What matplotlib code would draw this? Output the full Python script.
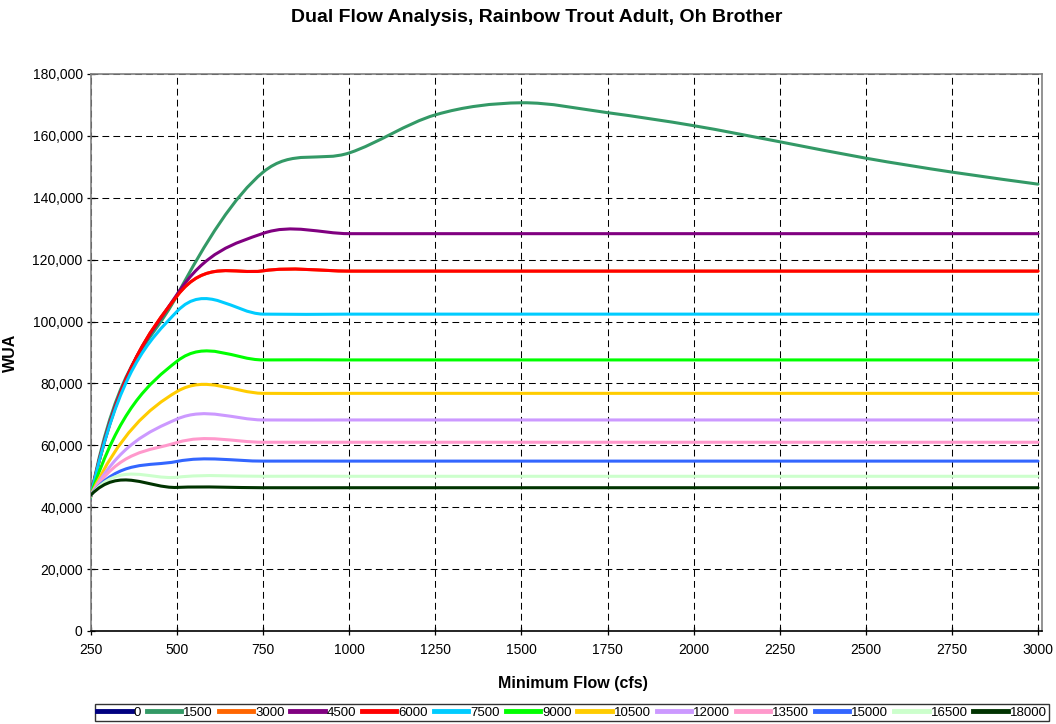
import numpy as np
import matplotlib
matplotlib.use("Agg")
import matplotlib.pyplot as plt
from matplotlib.path import Path
from matplotlib.patches import PathPatch
from matplotlib.lines import Line2D
from matplotlib.ticker import FuncFormatter

plt.rcParams['font.family'] = ['Liberation Sans', 'DejaVu Sans']

# minimum flow (cfs); the first point (0 cfs) lies left of the axis and only shapes the curve start
flow = [0, 250, 500, 750, 1000, 1250, 1500, 1750, 2000, 2250, 2500, 2750, 3000]

series_names = ['0', '1500', '3000', '4500', '6000', '7500', '9000',
                '10500', '12000', '13500', '15000', '16500', '18000']
series_colors = ['#000080', '#339966', '#FF6600', '#800080', '#FF0000', '#00CCFF', '#00FF00',
                 '#FFCC00', '#CC99FF', '#FF99CC', '#3366FF', '#CCFFCC', '#003300']

wua_0 = []
wua_1500 = [-167800, 44000, 108500, 148300, 154500, 166800, 170700, 167500, 163300, 158100, 152800, 148300, 144400]
wua_3000 = [-137700, 44000, 108300, 116400, 116300, 116300, 116300, 116300, 116300, 116300, 116300, 116300, 116300]
wua_4500 = [-145300, 44000, 108800, 128500, 128400, 128400, 128400, 128400, 128400, 128400, 128400, 128400, 128400]
wua_6000 = [-137700, 44000, 108300, 116400, 116300, 116300, 116300, 116300, 116300, 116300, 116300, 116300, 116300]
wua_7500 = [-143100, 44000, 103300, 102400, 102400, 102400, 102400, 102400, 102400, 102400, 102400, 102400, 102400]
wua_9000 = [-80400, 44000, 87200, 87600, 87600, 87600, 87600, 87600, 87600, 87600, 87600, 87600, 87600]
wua_10500 = [-41000, 44000, 77400, 76800, 76800, 76800, 76800, 76800, 76800, 76800, 76800, 76800, 76800]
wua_12000 = [-29600, 44000, 68500, 68200, 68200, 68200, 68200, 68200, 68200, 68200, 68200, 68200, 68200]
wua_13500 = [-27300, 44000, 60900, 61000, 61000, 61000, 61000, 61000, 61000, 61000, 61000, 61000, 61000]
wua_15000 = [-15300, 44000, 54800, 54900, 54900, 54900, 54900, 54900, 54900, 54900, 54900, 54900, 54900]
wua_16500 = [-17900, 44000, 49700, 50000, 50000, 50000, 50000, 50000, 50000, 50000, 50000, 50000, 50000]
wua_18000 = [-10300, 44000, 46400, 46300, 46300, 46300, 46300, 46300, 46300, 46300, 46300, 46300, 46300]

all_wua = [wua_0, wua_1500, wua_3000, wua_4500, wua_6000, wua_7500, wua_9000,
           wua_10500, wua_12000, wua_13500, wua_15000, wua_16500, wua_18000]

x_ticks = [250, 500, 750, 1000, 1250, 1500, 1750, 2000, 2250, 2500, 2750, 3000]
y_ticks = [0, 20000, 40000, 60000, 80000, 100000, 120000, 140000, 160000, 180000]


def smooth_path(xs, ys):
    # Excel-style smoothed line: Catmull-Rom tangents as cubic Bezier segments
    pts = np.column_stack([xs, ys]).astype(float)
    n = len(pts)
    verts = [pts[0]]
    codes = [Path.MOVETO]
    for i in range(n - 1):
        p0 = pts[max(i - 1, 0)]
        p1 = pts[i]
        p2 = pts[i + 1]
        p3 = pts[min(i + 2, n - 1)]
        verts += [p1 + (p2 - p0) / 6, p2 - (p3 - p1) / 6, p2]
        codes += [Path.CURVE4] * 3
    return Path(verts, codes)


fig = plt.figure(figsize=(10.56, 7.24), dpi=100)
ax = fig.add_axes([91 / 1056, 93 / 724, 951 / 1056, 557 / 724])

ax.set_xlim(250, 250 + 951 / (947 / 2750))
ax.set_ylim(0, 180000)
ax.set_xticks(x_ticks)
ax.set_yticks(y_ticks)
ax.yaxis.set_major_formatter(FuncFormatter(lambda v, _: f"{int(v):,}"))

ax.grid(True, color='black', linestyle=(0, (6.5, 4)), linewidth=0.75)
ax.set_axisbelow(True)

for side in ('top', 'right', 'left'):
    ax.spines[side].set_color('#808080')
    ax.spines[side].set_linewidth(1.2)
ax.spines['bottom'].set_color('black')
ax.spines['bottom'].set_linewidth(1.2)

ax.tick_params(axis='both', direction='inout', length=6, width=0.9, labelsize=10,
               colors='black')
ax.tick_params(axis='x', pad=6)
ax.tick_params(axis='y', pad=3)

handles = []
for name, color, vals in zip(series_names, series_colors, all_wua):
    if vals:
        patch = PathPatch(smooth_path(flow, vals), facecolor='none', edgecolor=color,
                          linewidth=2.2, capstyle='round', joinstyle='round', zorder=3)
        ax.add_patch(patch)
    handles.append(Line2D([], [], color=color, linewidth=3.5, label=name))

ax.set_xlabel('Minimum Flow (cfs)', fontsize=11.5, fontweight='bold')
ax.xaxis.set_label_coords((573 - 91) / 951, (631 - 676) / 557)
ax.set_ylabel('WUA', fontsize=11.5, fontweight='bold')
ax.yaxis.set_label_coords((18 - 91) / 951, 0.5)

fig.text(537 / 1056, 1 - 18 / 724, 'Dual Flow Analysis, Rainbow Trout Adult, Oh Brother',
         ha='center', va='center', fontsize=14, fontweight='bold')

leg = fig.legend(handles=handles, loc='lower center', bbox_to_anchor=(572 / 1056, 0.0),
                 ncol=13, fontsize=9.5, frameon=True, fancybox=False, edgecolor='black',
                 handlelength=2.6, handletextpad=0.15, columnspacing=0.45,
                 borderpad=0.2, borderaxespad=0.2)
leg.get_frame().set_linewidth(1.0)

fig.savefig('out.png', dpi=100)
